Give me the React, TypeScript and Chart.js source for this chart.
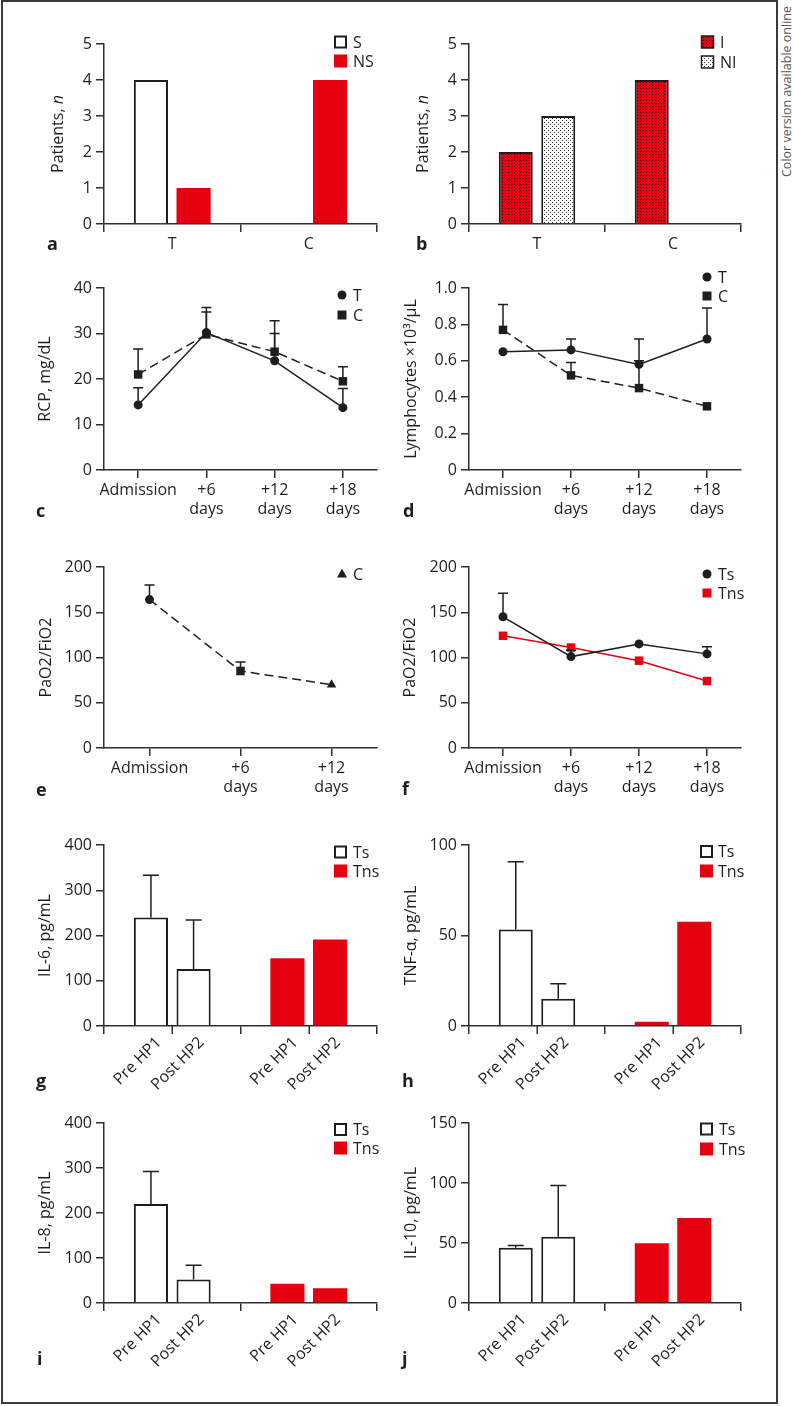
import React, { useEffect, useRef } from 'react';
import { Chart, registerables } from 'chart.js';

Chart.register(...registerables);

const FONT = '"Open Sans", "Noto Sans", "DejaVu Sans", sans-serif';
const RED = 'rgb(228, 0, 15)';
const INK = '#1e1e1e';
const AXIS = '#2e2e2e';

// ---------- data ----------
// a: survivors / non-survivors
const aGroups = ['T', 'C'];
const aSurvivors: (number | null)[] = [4, null];
const aNonSurvivors: (number | null)[] = [1, 4];

// b: infected / not infected
const bGroups = ['T', 'C'];
const bInfected: (number | null)[] = [2, 4];
const bNotInfected: (number | null)[] = [3, null];

// time axes
const dayLabels4: (string | string[])[] = ['Admission', ['+6', 'days'], ['+12', 'days'], ['+18', 'days']];
const dayLabels3: (string | string[])[] = ['Admission', ['+6', 'days'], ['+12', 'days']];

// c: RCP
const rcpT = [14.3, 30.2, 24.0, 13.7];
const rcpTUpper = [18.1, 34.7, 30.0, 17.9];
const rcpC = [21.0, 29.8, 26.0, 19.5];
const rcpCUpper = [26.6, 35.7, 32.8, 22.7];

// d: lymphocytes
const lymT = [0.65, 0.66, 0.58, 0.72];
const lymTUpper: (number | null)[] = [null, 0.72, 0.72, 0.89];
const lymC = [0.77, 0.52, 0.45, 0.35];
const lymCUpper: (number | null)[] = [0.91, 0.59, 0.6, null];

// e: PaO2/FiO2 controls
const pfC = [164, 85, 70];
const pfCUpper: (number | null)[] = [180, 95, null];

// f: PaO2/FiO2 treated
const pfTs = [145, 101, 115, 104];
const pfTsUpper: (number | null)[] = [171, 108, null, 112];
const pfTns = [124, 111, 96.5, 74];

// g-j: cytokines, groups Ts / Tns, time points Pre HP1 / Post HP2
const cytoGroups = ['Ts', 'Tns'];
const il6Pre = [240, 150];
const il6Post = [126, 191];
const il6PreUpper: (number | null)[] = [333, null];
const il6PostUpper: (number | null)[] = [234, null];

const tnfPre = [53.3, 2.4];
const tnfPost = [15, 57.6];
const tnfPreUpper: (number | null)[] = [90.8, null];
const tnfPostUpper: (number | null)[] = [23.4, null];

const il8Pre = [220, 43];
const il8Post = [52, 32.6];
const il8PreUpper: (number | null)[] = [292, null];
const il8PostUpper: (number | null)[] = [84, null];

const il10Pre = [46, 49.7];
const il10Post = [55.3, 70.8];
const il10PreUpper: (number | null)[] = [48, null];
const il10PostUpper: (number | null)[] = [98, null];

// ---------- layout ----------
type Geom = { left: number; width: number; areaL: number; areaR: number; top: number; height: number; areaT: number; areaB: number };
const COLS = [
  { left: 0, width: 390, areaL: 104, areaR: 377 },
  { left: 390, width: 386, areaL: 469, areaR: 741 },
];
const ROWS = [
  { top: 0, height: 270, areaT: 44, areaB: 224 },
  { top: 270, height: 280, areaT: 288, areaB: 470 },
  { top: 550, height: 280, areaT: 567, areaB: 748 },
  { top: 830, height: 280, areaT: 845, areaB: 1026 },
  { top: 1110, height: 292, areaT: 1123, areaB: 1303 },
];
const geom = (r: number, c: number): Geom => ({ ...COLS[c], ...ROWS[r] });

type LegendItem = { label: string; kind: string; fill?: any; mx: number; y: number; tx: number };
type Deco = {
  letter: { text: string; x: number; y: number };
  title: { parts: { text: string; italic?: boolean }[]; x: number };
  legend: LegendItem[];
  errors?: { ds: number; upper: (number | null)[]; cap: number }[];
  rotatedLabels?: boolean;
  centerTicks?: boolean;
};

function decoPlugin(spec: Deco) {
  return {
    id: 'deco',
    afterDraw(chart: any) {
      const ctx: CanvasRenderingContext2D = chart.ctx;
      const area = chart.chartArea;
      const xs = chart.scales.x;
      const ys = chart.scales.y;
      ctx.save();
      // error bars
      (spec.errors || []).forEach(({ ds, upper, cap }) => {
        const meta = chart.getDatasetMeta(ds);
        upper.forEach((u, i) => {
          if (u == null) return;
          const v = chart.data.datasets[ds].data[i];
          const el = meta.data[i];
          if (v == null || !el) return;
          const x0 = el.x;
          const y0 = ys.getPixelForValue(v);
          const y1 = ys.getPixelForValue(u);
          ctx.strokeStyle = INK;
          ctx.lineWidth = 1.5;
          ctx.beginPath();
          ctx.moveTo(x0, y0);
          ctx.lineTo(x0, y1);
          ctx.moveTo(x0 - cap / 2, y1);
          ctx.lineTo(x0 + cap / 2, y1);
          ctx.stroke();
        });
      });
      // extra tick marks at group centres
      if (spec.centerTicks) {
        ctx.strokeStyle = AXIS;
        ctx.lineWidth = 1.5;
        chart.data.labels.forEach((_: any, i: number) => {
          const px = Math.round(xs.getPixelForValue(i)) + 0.25;
          ctx.beginPath();
          ctx.moveTo(px, area.bottom);
          ctx.lineTo(px, area.bottom + 8);
          ctx.stroke();
        });
      }
      // rotated labels under each bar
      if (spec.rotatedLabels) {
        ctx.fillStyle = INK;
        ctx.font = `16px ${FONT}`;
        ctx.textAlign = 'right';
        ctx.textBaseline = 'middle';
        chart.data.datasets.forEach((d: any, di: number) => {
          const meta = chart.getDatasetMeta(di);
          meta.data.forEach((el: any) => {
            ctx.save();
            ctx.translate(el.x + 8, area.bottom + 14);
            ctx.rotate(-Math.PI / 4);
            ctx.fillText(d.label, 0, 0);
            ctx.restore();
          });
        });
      }
      // y title
      {
        const cy = (area.top + area.bottom) / 2;
        ctx.save();
        ctx.translate(spec.title.x, cy);
        ctx.rotate(-Math.PI / 2);
        ctx.fillStyle = INK;
        ctx.textBaseline = 'alphabetic';
        ctx.textAlign = 'left';
        const fonts = spec.title.parts.map((p) => `${p.italic ? 'italic ' : ''}16px ${FONT}`);
        let total = 0;
        spec.title.parts.forEach((p, i) => {
          ctx.font = fonts[i];
          total += ctx.measureText(p.text).width;
        });
        let pos = -total / 2;
        spec.title.parts.forEach((p, i) => {
          ctx.font = fonts[i];
          ctx.fillText(p.text, pos, 0);
          pos += ctx.measureText(p.text).width;
        });
        ctx.restore();
      }
      // legend
      spec.legend.forEach((it) => {
        const { mx, y } = it;
        ctx.save();
        switch (it.kind) {
          case 'outline':
            ctx.fillStyle = '#fff';
            ctx.fillRect(mx - 5.5, y - 5.5, 11, 11);
            ctx.lineWidth = 2;
            ctx.strokeStyle = INK;
            ctx.strokeRect(mx - 5.5, y - 5.5, 11, 11);
            break;
          case 'fill':
            ctx.fillStyle = it.fill;
            ctx.fillRect(mx - 6.5, y - 6.5, 13, 13);
            break;
          case 'pattern':
            ctx.fillStyle = it.fill;
            ctx.fillRect(mx - 6, y - 6, 12, 12);
            ctx.lineWidth = 1.5;
            ctx.strokeStyle = INK;
            ctx.strokeRect(mx - 6, y - 6, 12, 12);
            break;
          case 'circle':
            ctx.fillStyle = it.fill || INK;
            ctx.beginPath();
            ctx.arc(mx, y, 4.5, 0, Math.PI * 2);
            ctx.fill();
            break;
          case 'square':
            ctx.fillStyle = it.fill || INK;
            ctx.fillRect(mx - 4.5, y - 4.5, 9, 9);
            break;
          case 'triangle':
            ctx.fillStyle = it.fill || INK;
            ctx.beginPath();
            ctx.moveTo(mx, y - 5.5);
            ctx.lineTo(mx + 5, y + 3.5);
            ctx.lineTo(mx - 5, y + 3.5);
            ctx.closePath();
            ctx.fill();
            break;
        }
        ctx.fillStyle = INK;
        ctx.font = `16px ${FONT}`;
        ctx.textBaseline = 'middle';
        ctx.textAlign = 'left';
        ctx.fillText(it.label, it.tx, y + 1);
        ctx.restore();
      });
      // panel letter
      ctx.fillStyle = INK;
      ctx.font = `bold 18px ${FONT}`;
      ctx.textBaseline = 'alphabetic';
      ctx.textAlign = 'left';
      ctx.fillText(spec.letter.text, spec.letter.x, spec.letter.y);
      ctx.restore();
    },
  };
}

function baseOptions(g: Geom, y: { min: number; max: number; step: number; fmt?: (v: number) => string }, barAxis: boolean, hideXLabels = false) {
  const padTop = g.areaT - g.top;
  const yW = g.areaL - g.left;
  const padRight = g.width - (g.areaR - g.left);
  const xH = g.height - (g.areaB - g.top);
  const tickFont = { size: 16, family: FONT };
  return {
    responsive: false,
    animation: false as const,
    devicePixelRatio: 1,
    events: [],
    layout: { padding: { left: 0, top: padTop, right: padRight, bottom: 0 } },
    plugins: { legend: { display: false }, tooltip: { enabled: false }, title: { display: false } },
    scales: {
      x: {
        type: 'category',
        offset: true,
        grid: { display: true, drawOnChartArea: false, drawTicks: true, tickLength: 8, color: AXIS, lineWidth: 1.5, offset: barAxis },
        border: { display: true, color: AXIS, width: 1.5 },
        ticks: {
          color: INK,
          font: tickFont,
          maxRotation: 0,
          minRotation: 0,
          autoSkip: false,
          padding: 3,
          ...(hideXLabels ? { callback: () => '' } : {}),
        },
        afterFit: (s: any) => {
          s.height = xH;
          s.paddingLeft = 0;
          s.paddingRight = 0;
        },
      },
      y: {
        type: 'linear',
        min: y.min,
        max: y.max,
        ticks: {
          stepSize: y.step,
          color: INK,
          font: tickFont,
          padding: 4,
          callback: (v: any) => (y.fmt ? y.fmt(Number(v)) : String(Math.round(Number(v) * 1000) / 1000)),
        },
        grid: { display: true, drawOnChartArea: false, drawTicks: true, tickLength: 8, color: AXIS, lineWidth: 1.5 },
        border: { display: true, color: AXIS, width: 1.5 },
        afterFit: (s: any) => {
          s.width = yW;
          s.paddingTop = 0;
          s.paddingBottom = 0;
        },
      },
    },
  };
}

function makePattern(bg: string, dot: string, tile: number, dots: [number, number][]): CanvasPattern | string {
  const c = document.createElement('canvas');
  c.width = tile;
  c.height = tile;
  const x = c.getContext('2d');
  if (!x) return bg;
  x.fillStyle = bg;
  x.fillRect(0, 0, tile, tile);
  x.fillStyle = dot;
  dots.forEach(([dx, dy]) => x.fillRect(dx, dy, 1, 1));
  const p = x.createPattern(c, 'repeat');
  return p || bg;
}

const barDims = { categoryPercentage: 0.625, barPercentage: 0.8 };

type PanelDef = { geom: Geom; build: () => any };

function cytokinePanel(
  r: number,
  c: number,
  letter: string,
  title: string,
  pre: number[],
  post: number[],
  preUp: (number | null)[],
  postUp: (number | null)[],
  y: { min: number; max: number; step: number },
  legendPos: { mx: number; y1: number; y2: number; tx: number },
  letterPos: { x: number; y: number },
  titleX: number,
  centerTicks: boolean
): PanelDef {
  const g = geom(r, c);
  return {
    geom: g,
    build: () => {
      const ds = (label: string, data: number[]) => ({
        label,
        data,
        backgroundColor: ['#ffffff', RED],
        borderColor: [INK, RED],
        borderWidth: [2, 0],
        borderSkipped: 'start',
        ...barDims,
      });
      return {
        type: 'bar',
        data: { labels: cytoGroups, datasets: [ds('Pre HP1', pre), ds('Post HP2', post)] },
        options: baseOptions(g, y, true, true),
        plugins: [
          decoPlugin({
            letter: { text: letter, ...letterPos },
            title: { parts: [{ text: title }], x: titleX },
            legend: [
              { label: 'Ts', kind: 'outline', mx: legendPos.mx, y: legendPos.y1, tx: legendPos.tx },
              { label: 'Tns', kind: 'fill', fill: RED, mx: legendPos.mx, y: legendPos.y2, tx: legendPos.tx },
            ],
            errors: [
              { ds: 0, upper: preUp, cap: 16 },
              { ds: 1, upper: postUp, cap: 16 },
            ],
            rotatedLabels: true,
            centerTicks,
          }),
        ],
      };
    },
  };
}

const panels: PanelDef[] = [
  // a
  {
    geom: geom(0, 0),
    build: () => ({
      type: 'bar',
      data: {
        labels: aGroups,
        datasets: [
          { label: 'S', data: aSurvivors, backgroundColor: '#ffffff', borderColor: INK, borderWidth: 2, borderSkipped: 'start', ...barDims },
          { label: 'NS', data: aNonSurvivors, backgroundColor: RED, borderWidth: 0, ...barDims },
        ],
      },
      options: baseOptions(geom(0, 0), { min: 0, max: 5, step: 1 }, true),
      plugins: [
        decoPlugin({
          letter: { text: 'a', x: 47, y: 250 },
          title: { parts: [{ text: 'Patients, ' }, { text: 'n', italic: true }], x: 62.5 },
          legend: [
            { label: 'S', kind: 'outline', mx: 340.5, y: 42, tx: 353 },
            { label: 'NS', kind: 'fill', fill: RED, mx: 340.5, y: 61, tx: 353 },
          ],
        }),
      ],
    }),
  },
  // b
  {
    geom: geom(0, 1),
    build: () => {
      const patI = makePattern(RED, '#1a1a1a', 3, [[1, 1]]);
      const patNI = makePattern('#ffffff', '#2a2a2a', 4, [[0, 0], [2, 2]]);
      return {
        type: 'bar',
        data: {
          labels: bGroups,
          datasets: [
            { label: 'I', data: bInfected, backgroundColor: patI, borderColor: INK, borderWidth: 2, borderSkipped: 'start', ...barDims },
            { label: 'NI', data: bNotInfected, backgroundColor: patNI, borderColor: INK, borderWidth: 2, borderSkipped: 'start', ...barDims },
          ],
        },
        options: baseOptions(geom(0, 1), { min: 0, max: 5, step: 1 }, true),
        plugins: [
          decoPlugin({
            letter: { text: 'b', x: 26, y: 250 },
            title: { parts: [{ text: 'Patients, ' }, { text: 'n', italic: true }], x: 38 },
            legend: [
              { label: 'I', kind: 'pattern', fill: patI, mx: 317.5, y: 42, tx: 330 },
              { label: 'NI', kind: 'pattern', fill: patNI, mx: 317.5, y: 62, tx: 330 },
            ],
          }),
        ],
      };
    },
  },
  // c
  {
    geom: geom(1, 0),
    build: () => ({
      type: 'line',
      data: {
        labels: dayLabels4,
        datasets: [
          { label: 'T', data: rcpT, borderColor: INK, borderWidth: 1.5, pointStyle: 'circle', pointRadius: 4.5, pointBackgroundColor: INK, pointBorderWidth: 0, tension: 0, fill: false },
          { label: 'C', data: rcpC, borderColor: INK, borderWidth: 1.5, borderDash: [9, 5], pointStyle: 'rect', pointRadius: 6, pointBackgroundColor: INK, pointBorderWidth: 0, tension: 0, fill: false },
        ],
      },
      options: baseOptions(geom(1, 0), { min: 0, max: 40, step: 10 }, false),
      plugins: [
        decoPlugin({
          letter: { text: 'c', x: 36, y: 247 },
          title: { parts: [{ text: 'RCP, mg/dL' }], x: 50 },
          legend: [
            { label: 'T', kind: 'circle', mx: 342, y: 25, tx: 353 },
            { label: 'C', kind: 'square', mx: 342, y: 45, tx: 353 },
          ],
          errors: [
            { ds: 0, upper: rcpTUpper, cap: 10 },
            { ds: 1, upper: rcpCUpper, cap: 10 },
          ],
        }),
      ],
    }),
  },
  // d
  {
    geom: geom(1, 1),
    build: () => ({
      type: 'line',
      data: {
        labels: dayLabels4,
        datasets: [
          { label: 'T', data: lymT, borderColor: INK, borderWidth: 1.5, pointStyle: 'circle', pointRadius: 4.5, pointBackgroundColor: INK, pointBorderWidth: 0, tension: 0, fill: false },
          { label: 'C', data: lymC, borderColor: INK, borderWidth: 1.5, borderDash: [9, 5], pointStyle: 'rect', pointRadius: 6, pointBackgroundColor: INK, pointBorderWidth: 0, tension: 0, fill: false },
        ],
      },
      options: baseOptions(geom(1, 1), { min: 0, max: 1, step: 0.2, fmt: (v) => (v === 0 ? '0' : v.toFixed(1)) }, false),
      plugins: [
        decoPlugin({
          letter: { text: 'd', x: 13, y: 247 },
          title: { parts: [{ text: 'Lymphocytes ×10³/μL' }], x: 26 },
          legend: [
            { label: 'T', kind: 'circle', mx: 317, y: 7, tx: 328 },
            { label: 'C', kind: 'square', mx: 317, y: 26, tx: 328 },
          ],
          errors: [
            { ds: 0, upper: lymTUpper, cap: 10 },
            { ds: 1, upper: lymCUpper, cap: 10 },
          ],
        }),
      ],
    }),
  },
  // e
  {
    geom: geom(2, 0),
    build: () => ({
      type: 'line',
      data: {
        labels: dayLabels3,
        datasets: [
          {
            label: 'C',
            data: pfC,
            borderColor: INK,
            borderWidth: 1.5,
            borderDash: [9, 5],
            pointStyle: ['circle', 'rect', 'triangle'],
            pointRadius: [4.5, 6, 5.5],
            pointBackgroundColor: INK,
            pointBorderWidth: 0,
            tension: 0,
            fill: false,
          },
        ],
      },
      options: baseOptions(geom(2, 0), { min: 0, max: 200, step: 50 }, false),
      plugins: [
        decoPlugin({
          letter: { text: 'e', x: 36, y: 246 },
          title: { parts: [{ text: 'PaO2/FiO2' }], x: 50.5 },
          legend: [{ label: 'C', kind: 'triangle', mx: 342, y: 24, tx: 353 }],
          errors: [{ ds: 0, upper: pfCUpper, cap: 10 }],
        }),
      ],
    }),
  },
  // f
  {
    geom: geom(2, 1),
    build: () => ({
      type: 'line',
      data: {
        labels: dayLabels4,
        datasets: [
          { label: 'Ts', data: pfTs, borderColor: INK, borderWidth: 1.5, pointStyle: 'circle', pointRadius: 4.5, pointBackgroundColor: INK, pointBorderWidth: 0, tension: 0, fill: false },
          { label: 'Tns', data: pfTns, borderColor: RED, borderWidth: 1.5, pointStyle: 'rect', pointRadius: 6, pointBackgroundColor: RED, pointBorderWidth: 0, tension: 0, fill: false },
        ],
      },
      options: baseOptions(geom(2, 1), { min: 0, max: 200, step: 50 }, false),
      plugins: [
        decoPlugin({
          letter: { text: 'f', x: 12, y: 245 },
          title: { parts: [{ text: 'PaO2/FiO2' }], x: 25 },
          legend: [
            { label: 'Ts', kind: 'circle', mx: 317, y: 24, tx: 328 },
            { label: 'Tns', kind: 'square', fill: RED, mx: 317, y: 43, tx: 328 },
          ],
          errors: [{ ds: 0, upper: pfTsUpper, cap: 10 }],
        }),
      ],
    }),
  },
  // g
  cytokinePanel(3, 0, 'g', 'IL-6, pg/mL', il6Pre, il6Post, il6PreUpper, il6PostUpper, { min: 0, max: 400, step: 100 },
    { mx: 340.5, y1: 22, y2: 41, tx: 353 }, { x: 36, y: 257 }, 50, true),
  // h
  cytokinePanel(3, 1, 'h', 'TNF-α, pg/mL', tnfPre, tnfPost, tnfPreUpper, tnfPostUpper, { min: 0, max: 100, step: 50 },
    { mx: 316.5, y1: 21.5, y2: 41, tx: 328 }, { x: 12, y: 257 }, 26, true),
  // i
  cytokinePanel(4, 0, 'i', 'IL-8, pg/mL', il8Pre, il8Post, il8PreUpper, il8PostUpper, { min: 0, max: 400, step: 100 },
    { mx: 340.5, y1: 19.5, y2: 38, tx: 353 }, { x: 37, y: 255 }, 50, false),
  // j
  cytokinePanel(4, 1, 'j', 'IL-10, pg/mL', il10Pre, il10Post, il10PreUpper, il10PostUpper, { min: 0, max: 150, step: 50 },
    { mx: 316.5, y1: 19, y2: 39, tx: 329 }, { x: 12, y: 255 }, 26, false),
];

function Panel({ def }: { def: PanelDef }) {
  const ref = useRef<HTMLCanvasElement | null>(null);
  useEffect(() => {
    if (!ref.current) return;
    const chart = new Chart(ref.current, def.build());
    return () => chart.destroy();
  }, [def]);
  const g = def.geom;
  return (
    <canvas
      ref={ref}
      width={g.width}
      height={g.height}
      style={{ position: 'absolute', left: g.left, top: g.top, width: g.width, height: g.height }}
    />
  );
}

export default function App() {
  return (
    <div style={{ position: 'absolute', left: 0, top: 0, width: 793, height: 1406, background: '#fff', overflow: 'hidden', fontFamily: FONT }}>
      <div
        style={{
          position: 'absolute',
          left: 1,
          top: 0,
          width: 777,
          height: 1404,
          boxSizing: 'border-box',
          border: '2px solid #3a3a3a',
        }}
      />
      {panels.map((p, i) => (
        <Panel key={i} def={p} />
      ))}
      <div
        style={{
          position: 'absolute',
          left: 698,
          top: 79,
          width: 178,
          height: 18,
          lineHeight: '18px',
          fontSize: 12.5,
          color: '#555',
          whiteSpace: 'nowrap',
          transform: 'rotate(-90deg)',
          transformOrigin: '50% 50%',
          textAlign: 'left',
        }}
      >
        Color version available online
      </div>
    </div>
  );
}
